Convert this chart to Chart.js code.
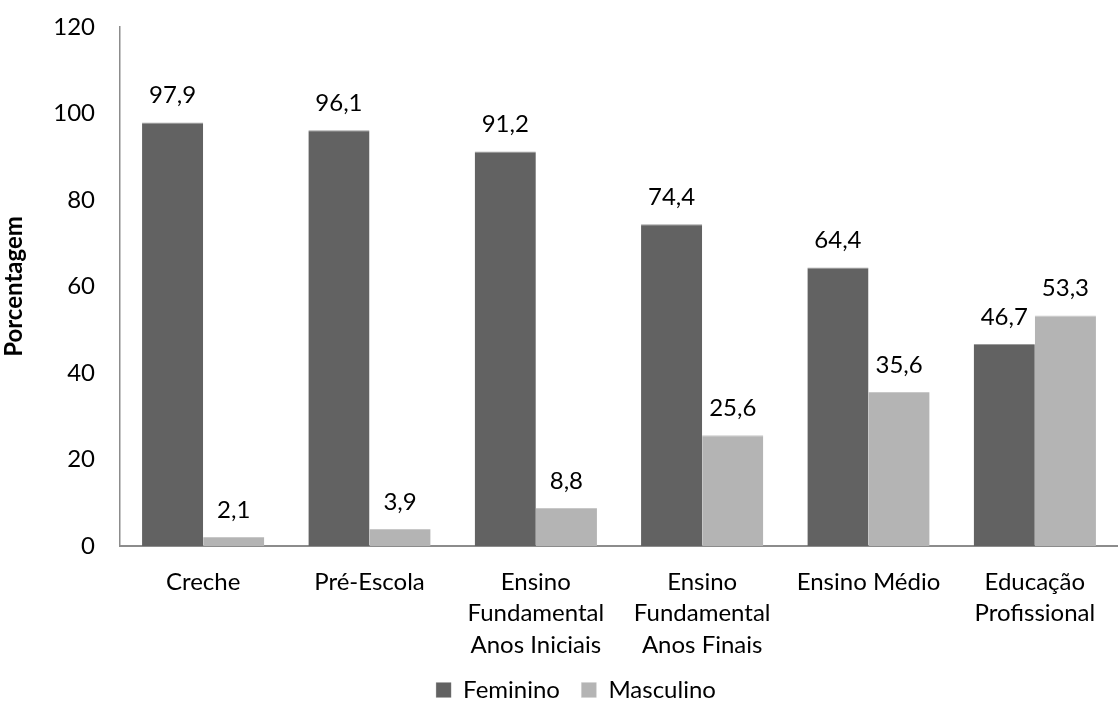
<!DOCTYPE html>
<html>
<head>
<meta charset="utf-8">
<script src="https://cdn.jsdelivr.net/npm/chart.js@4"></script>
<style>
  html, body { margin: 0; padding: 0; background: #fff; }
  #wrap { width: 1118px; height: 713px; }
</style>
</head>
<body>
<div id="wrap"><canvas id="bars"></canvas></div>
<script>
const categories = [
  "Creche",
  "Pré-Escola",
  ["Ensino", "Fundamental", "Anos Iniciais"],
  ["Ensino", "Fundamental", "Anos Finais"],
  "Ensino Médio",
  ["Educação", "Profissional"]
];
const feminino = [97.9, 96.1, 91.2, 74.4, 64.4, 46.7];
const masculino = [2.1, 3.9, 8.8, 25.6, 35.6, 53.3];
const yTicks = [0, 20, 40, 60, 80, 100, 120];

const FONT = "Lato, 'Open Sans', sans-serif";

// values above each bar, with a decimal comma
const valueLabels = {
  id: "valueLabels",
  afterDatasetsDraw(chart) {
    const ctx = chart.ctx;
    ctx.save();
    ctx.font = "24px " + FONT;
    ctx.fillStyle = "#000";
    ctx.textAlign = "center";
    ctx.textBaseline = "middle";
    chart.data.datasets.forEach((ds, i) => {
      chart.getDatasetMeta(i).data.forEach((bar, j) => {
        const txt = ds.data[j].toFixed(1).replace(".", ",");
        ctx.fillText(txt, bar.x, bar.y - 27);
      });
    });
    ctx.restore();
  }
};

// nudge the legend a bit to the right
const legendShift = {
  id: "legendShift",
  afterLayout(chart) {
    if (chart.legend) chart.legend.left += 34;
  }
};

new Chart(document.getElementById("bars").getContext("2d"), {
  type: "bar",
  data: {
    labels: categories,
    datasets: [
      {
        label: "Feminino",
        data: feminino,
        backgroundColor: "#626262",
        borderColor: "#9a9a9a",
        borderWidth: { top: 1, left: 0, right: 0, bottom: 0 },
        categoryPercentage: 0.735,
        barPercentage: 1
      },
      {
        label: "Masculino",
        data: masculino,
        backgroundColor: "#b4b4b4",
        borderColor: "#c8c8c8",
        borderWidth: { top: 1, left: 0, right: 0, bottom: 0 },
        categoryPercentage: 0.735,
        barPercentage: 1
      }
    ]
  },
  options: {
    responsive: true,
    maintainAspectRatio: false,
    animation: false,
    layout: { padding: { top: 27, right: 0, bottom: 1, left: 0 } },
    plugins: {
      legend: {
        position: "bottom",
        labels: {
          color: "#000",
          font: { family: FONT, size: 24 },
          boxWidth: 15,
          boxHeight: 15,
          padding: 3,
          useBorderRadius: false,
          generateLabels(chart) {
            const items = Chart.defaults.plugins.legend.labels.generateLabels(chart);
            items[0].text = items[0].text + "   ";
            return items;
          }
        }
      },
      tooltip: { enabled: false }
    },
    scales: {
      x: {
        afterFit(scale) { scale.height = scale.height - 6; },
        grid: { display: false, drawTicks: false },
        border: { color: "#8c8c8c", width: 2 },
        ticks: {
          color: "#000",
          font: { family: FONT, size: 24, lineHeight: 1.32 },
          padding: 20,
          maxRotation: 0,
          autoSkip: false
        }
      },
      y: {
        min: 0,
        max: 120,
        afterBuildTicks(scale) { scale.ticks = yTicks.map(v => ({ value: v })); },
        afterFit(scale) {
          scale.width = 120;
          scale.paddingTop = 0;
          scale.paddingBottom = 0;
        },
        grid: { display: false, drawTicks: false },
        border: { color: "#8c8c8c", width: 1.5 },
        ticks: {
          color: "#000",
          font: { family: FONT, size: 24 },
          padding: 25
        },
        title: {
          display: true,
          text: "Porcentagem",
          color: "#000",
          font: { family: FONT, size: 24, weight: "bold" },
          padding: { top: 0, bottom: 0 }
        }
      }
    }
  },
  plugins: [valueLabels, legendShift]
});
</script>
</body>
</html>
